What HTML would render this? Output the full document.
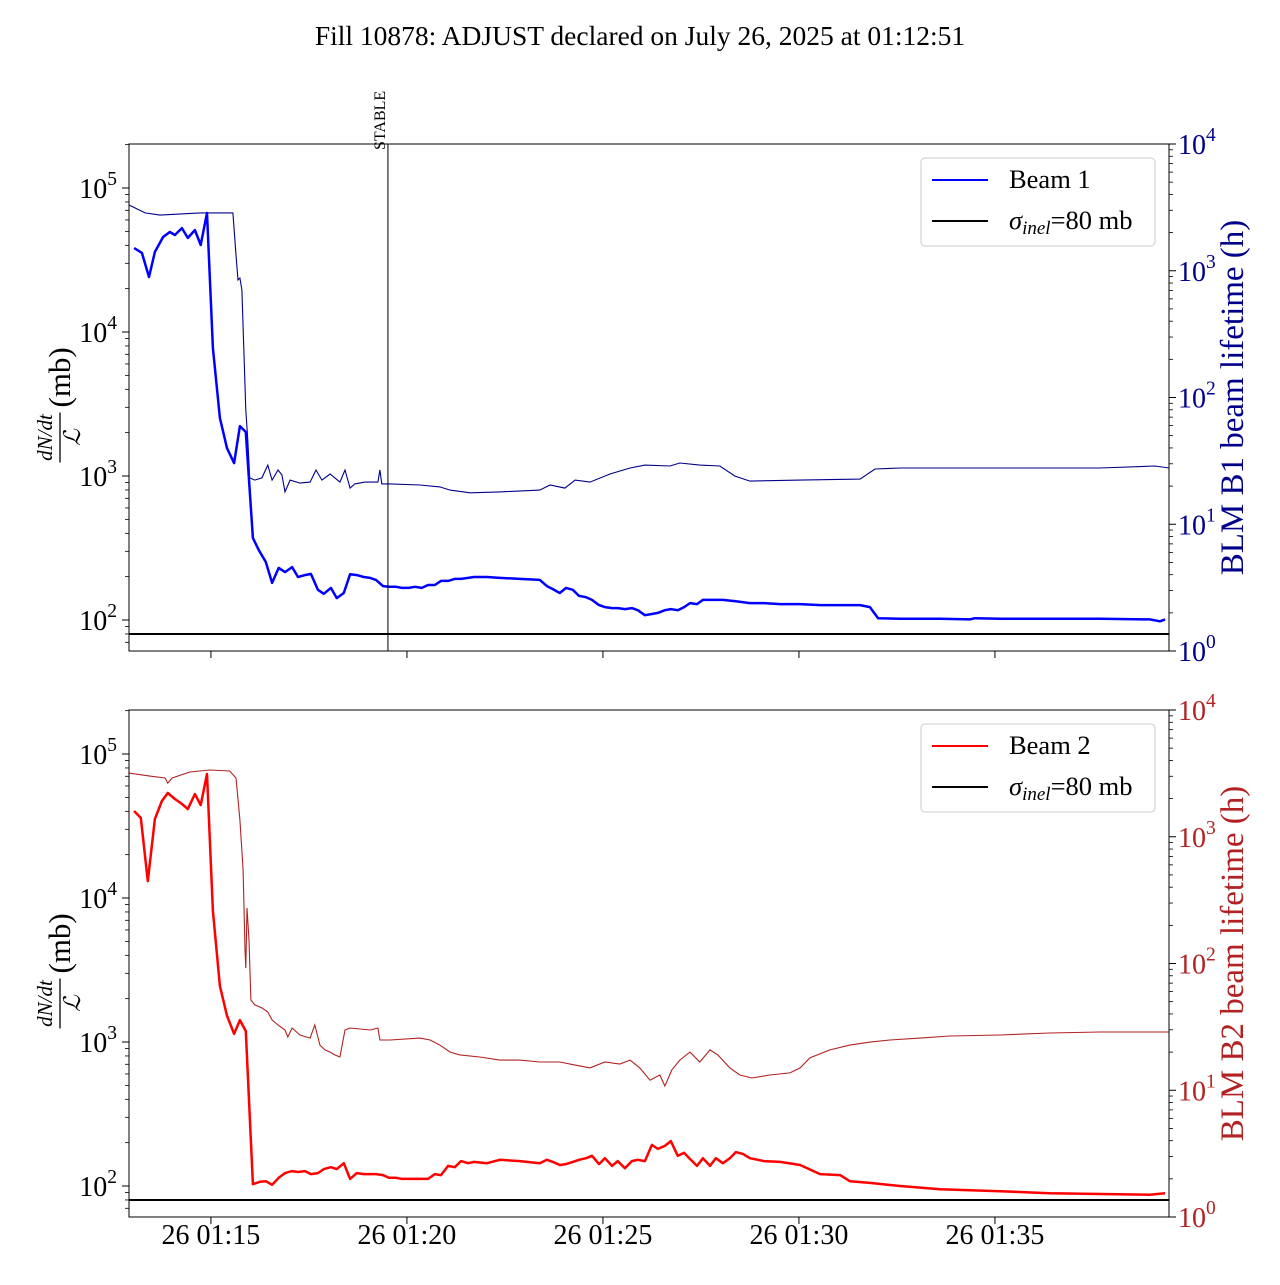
<!DOCTYPE html>
<html><head><meta charset="utf-8"><style>
body{margin:0;background:#fff;}
svg text{font-family:"Liberation Serif",serif;}
</style></head><body>
<svg id="chart" width="1280" height="1280" xmlns="http://www.w3.org/2000/svg">
<text x="640" y="45" font-size="27.5" text-anchor="middle">Fill 10878: ADJUST declared on July 26, 2025 at 01:12:51</text>
</svg>
<script>
// times in minutes after 01:00
const b1Time=[13.04,13.24,13.42,13.57,13.78,13.95,14.08,14.26,14.41,14.59,14.74,14.90,15.05,15.23,15.41,15.59,15.74,15.89,16.07,16.22,16.40,16.56,16.73,16.89,17.07,17.22,17.40,17.55,17.73,17.88,18.06,18.21,18.39,18.55,18.72,18.90,19.06,19.21,19.39,19.54,19.72,19.87,20.05,20.20,20.38,20.54,20.71,20.87,21.05,21.22,21.38,21.56,21.71,22.04,22.37,22.88,23.39,23.57,23.72,23.90,24.06,24.23,24.39,24.57,24.72,24.90,25.05,25.23,25.38,25.56,25.74,25.89,26.07,26.25,26.40,26.58,26.73,26.91,27.07,27.22,27.40,27.55,27.73,28.06,28.39,28.75,29.11,29.52,30.03,30.54,31.05,31.56,31.81,32.02,32.58,33.60,34.36,34.49,35.13,36.40,37.68,38.95,39.21,39.34];
const b1Rate=[38300,35400,24100,36000,45700,49500,47200,52700,45000,51000,40200,67000,7740,2530,1560,1230,2220,2020,371,306,253,181,230,215,233,199,205,209,162,152,167,142,154,208,205,199,196,190,172,170,170,167,167,170,167,175,175,187,187,193,193,196,199,199,196,193,190,172,164,154,167,162,147,144,138,127,123,121,121,119,121,117,108,110,112,117,119,117,123,131,129,138,138,138,135,131,131,129,129,127,127,127,123,103,102,102,101,103,102,102,102,101,98,101];
const b1LtTime=[12.91,13.06,13.32,13.70,14.72,15.56,15.64,15.69,15.74,15.79,15.89,15.94,15.99,16.12,16.30,16.45,16.56,16.71,16.81,16.89,17.02,17.27,17.53,17.68,17.83,18.04,18.29,18.42,18.55,18.67,18.93,19.26,19.31,19.36,19.57,20.33,20.84,21.10,21.61,22.37,23.39,23.65,24.03,24.29,24.67,25.18,25.69,26.07,26.71,26.96,27.47,27.98,28.37,28.75,30.03,31.56,31.94,32.58,35.13,37.68,39.08,39.44];
const b1Life=[3300,3130,2860,2750,2860,2860,1330,845,877,705,79.6,46.2,23.2,22.3,23.2,29.3,22.3,26.8,24.5,18.0,22.3,21.1,21.5,26.8,22.3,24.9,21.5,26.8,19.3,20.8,21.5,21.5,26.8,20.8,20.8,20.4,19.7,18.6,17.7,18.0,18.6,20.4,19.3,22.3,21.5,24.9,27.8,29.3,28.8,30.4,29.3,28.8,24.0,21.9,22.3,22.7,27.3,27.8,27.8,27.8,28.8,27.8];
const b2Time=[13.04,13.21,13.39,13.57,13.75,13.90,14.08,14.26,14.41,14.59,14.74,14.90,15.05,15.23,15.41,15.59,15.74,15.89,16.07,16.25,16.40,16.56,16.73,16.89,17.07,17.22,17.40,17.55,17.73,17.88,18.06,18.21,18.39,18.55,18.72,18.90,19.21,19.39,19.54,19.72,19.87,20.20,20.54,20.71,20.87,21.05,21.22,21.38,21.56,21.71,22.04,22.37,22.88,23.39,23.57,23.72,23.90,24.06,24.23,24.39,24.57,24.72,24.90,25.05,25.23,25.38,25.56,25.74,25.89,26.07,26.25,26.40,26.58,26.73,26.91,27.07,27.22,27.40,27.55,27.73,27.88,28.06,28.24,28.39,28.57,28.75,29.11,29.52,30.03,30.54,31.05,31.30,31.81,32.58,33.60,35.13,36.40,37.68,38.95,39.34];
const b2Rate=[40200,36000,13100,35400,47200,53600,48700,45000,41500,52700,44200,72600,8120,2450,1520,1140,1420,1190,103,107,108,102,114,123,127,125,127,121,123,131,135,131,144,112,123,121,121,119,114,114,112,112,112,121,119,138,135,149,144,147,144,152,149,144,152,147,140,142,147,152,156,162,142,156,138,149,133,149,152,149,193,181,190,205,162,170,154,138,156,138,156,144,156,172,167,156,149,147,140,121,119,108,105,100,95,92,89,88,87,89];
const b2LtTime=[12.91,13.44,13.83,13.90,14.01,14.46,14.97,15.48,15.64,15.74,15.82,15.87,15.89,15.92,15.97,16.02,16.12,16.30,16.45,16.56,16.71,16.89,16.96,17.07,17.27,17.53,17.65,17.78,17.91,18.04,18.16,18.29,18.42,18.55,19.06,19.26,19.31,19.57,20.33,20.59,20.84,21.10,21.35,21.86,22.37,22.88,23.39,23.90,24.29,24.67,25.05,25.43,25.69,25.94,26.20,26.45,26.58,26.76,26.96,27.22,27.47,27.73,27.93,28.24,28.49,28.80,29.26,29.77,30.03,30.28,30.79,31.30,31.81,32.32,33.09,33.85,35.13,36.40,37.68,39.44];
const b2Life=[3180,3010,2910,2650,2910,3240,3360,3300,2910,1360,547,128,92,274,153,51.5,47.1,44.6,41.4,35.8,32.7,29.9,26.3,31.0,27.3,25.8,32.7,22.7,20.8,20.0,19.0,18.3,29.9,31.0,29.9,31.0,24.9,24.9,25.8,24.9,22.7,20.0,19.0,18.3,17.3,17.3,16.7,16.7,15.8,15.0,16.7,16.1,17.3,15.0,12.0,13.2,10.8,14.5,17.3,20.0,16.7,20.8,19.0,15.0,13.2,12.5,13.2,13.7,15.0,18.0,20.8,22.7,24.0,24.9,25.8,26.8,27.3,28.3,28.8,28.8];
const xTicks=[15,20,25,30,35];
const xTickLabels=["26 01:15","26 01:20","26 01:25","26 01:30","26 01:35"];
const stableTime=19.49;
const sigma=80;

const NS="http://www.w3.org/2000/svg";
const svg=document.getElementById('chart');
const X0=129,X1=1169,T0=12.91,T1=39.44;
const xs=t=>X0+(t-T0)/(T1-T0)*(X1-X0);
function mk(tag,attrs,parent){const e=document.createElementNS(NS,tag);for(const k in attrs)e.setAttribute(k,attrs[k]);(parent||svg).appendChild(e);return e;}
function panel(top,bot,p){
  const g=mk('g',{});
  
  
  const ppd=144, y2=top+476;
  const yl=v=>y2-(Math.log10(v)-2)*ppd;
  const yr=v=>bot-Math.log10(v)*(bot-top)/4;
  const clip=mk('clipPath',{id:'c'+top},g);mk('rect',{x:X0,y:top,width:X1-X0,height:bot-top},clip);
  for(let d=1;d<=5;d++){
    for(let m=1;m<10;m++){const v=m*Math.pow(10,d);const y=yl(v);if(y<top||y>bot)continue;
      mk('line',{x1:X0,x2:X0-(m==1?7:4),y1:y,y2:y,stroke:'#000','stroke-width':m==1?1:0.8},g);}
    const y=yl(Math.pow(10,d));if(d>=2){const t=mk('text',{x:X0-12,y:y+10,'font-size':28,'text-anchor':'end'},g);
      
      t.innerHTML='10<tspan dy="-13" font-size="19.5">'+d+'</tspan>';}
  }
  for(let d=0;d<=4;d++){
    for(let m=1;m<10;m++){const v=m*Math.pow(10,d);const y=yr(v);if(y<top-0.5||y>bot+0.5)continue;
      mk('line',{x1:X1,x2:X1+(m==1?7:4),y1:y,y2:y,stroke:'#000','stroke-width':m==1?1:0.8},g);}
    const y=yr(Math.pow(10,d));const t=mk('text',{x:X1+9,y:y+10,'font-size':28,fill:p.rc},g);
    
    t.innerHTML='10<tspan dy="-13" font-size="19.5">'+d+'</tspan>';
  }
  xTicks.forEach((tv,i)=>{const x=xs(tv);mk('line',{x1:x,x2:x,y1:bot,y2:bot+7,stroke:'#000'},g);
    if(p.labels){const t=mk('text',{x:x,y:bot+27,'font-size':28,'text-anchor':'middle'},g);t.textContent=xTickLabels[i];
      }});
  const pts=(T,V,f)=>T.map((t,i)=>xs(t).toFixed(1)+','+f(V[i]).toFixed(1)).join(' ');
  const thin=mk('polyline',{points:pts(p.lt,p.lv,yr),fill:'none',stroke:p.rc,'stroke-width':1.1,'clip-path':'url(#c'+top+')'},g);
  
  const thick=mk('polyline',{points:pts(p.t,p.v,yl),fill:'none',stroke:p.c,'stroke-width':2.5,'stroke-linejoin':'round','clip-path':'url(#c'+top+')'},g);
  
  const sl=mk('line',{x1:X0,x2:X1,y1:yl(sigma),y2:yl(sigma),stroke:'#000','stroke-width':2},g);
  
  if(p.stable){const x=xs(stableTime)+1;const l=mk('line',{x1:x,x2:x,y1:top,y2:bot,stroke:'#000','stroke-width':1},g);
    
    const t=mk('text',{x:0,y:0,'font-size':16,transform:`translate(${x-3},${top+6}) rotate(-90)`},g);t.textContent='STABLE';
    }
  mk('rect',{x:X0,y:top,width:X1-X0,height:bot-top,fill:'none',stroke:'#000','stroke-width':1},g);
  const lg=mk('g',{},g);
  mk('rect',{x:921,y:top+14,width:234,height:88,rx:4,fill:'#fff',stroke:'#ccc','stroke-width':1},lg);
  mk('line',{x1:932,x2:988,y1:top+36,y2:top+36,stroke:p.c,'stroke-width':2},lg);
  let t=mk('text',{x:1009,y:top+44,'font-size':26.5},lg);t.textContent=p.label;
  
  mk('line',{x1:932,x2:988,y1:top+77,y2:top+77,stroke:'#000','stroke-width':2},lg);
  t=mk('text',{x:1009,y:top+85,'font-size':26.5},lg);t.innerHTML='<tspan font-style="italic">σ</tspan><tspan font-style="italic" font-size="19" dy="5">inel</tspan><tspan dy="-5">=80 mb</tspan>';
  
  const cy=(top+bot)/2;
  const ll=mk('g',{transform:`translate(60,${cy}) rotate(-90)`},g);
  t=mk('text',{x:-40,y:-8,'font-size':21,'font-style':'italic','text-anchor':'middle'},ll);t.textContent='dN/dt';
  mk('line',{x1:-65,x2:-15,y1:0,y2:0,stroke:'#000','stroke-width':1.3},ll);
  t=mk('text',{x:-40,y:20,'font-size':23,'font-style':'italic','text-anchor':'middle'},ll);t.textContent='ℒ';
  t=mk('text',{x:-10,y:10,'font-size':31},ll);t.textContent='(mb)';
  t=mk('text',{x:0,y:0,'font-size':33,fill:p.rc,'text-anchor':'middle',transform:`translate(1243,${cy}) rotate(-90)`},g);t.textContent=p.rl;
  
}
panel(144,651,{name:'beam1-panel',t:b1Time,v:b1Rate,lt:b1LtTime,lv:b1Life,c:'#0000ff',rc:'#00008b',label:'Beam 1',rl:'BLM B1 beam lifetime (h)',stable:true,labels:false});
panel(710,1217,{name:'beam2-panel',t:b2Time,v:b2Rate,lt:b2LtTime,lv:b2Life,c:'#ff0000',rc:'#b22222',label:'Beam 2',rl:'BLM B2 beam lifetime (h)',stable:false,labels:true});
</script>
</body></html>
